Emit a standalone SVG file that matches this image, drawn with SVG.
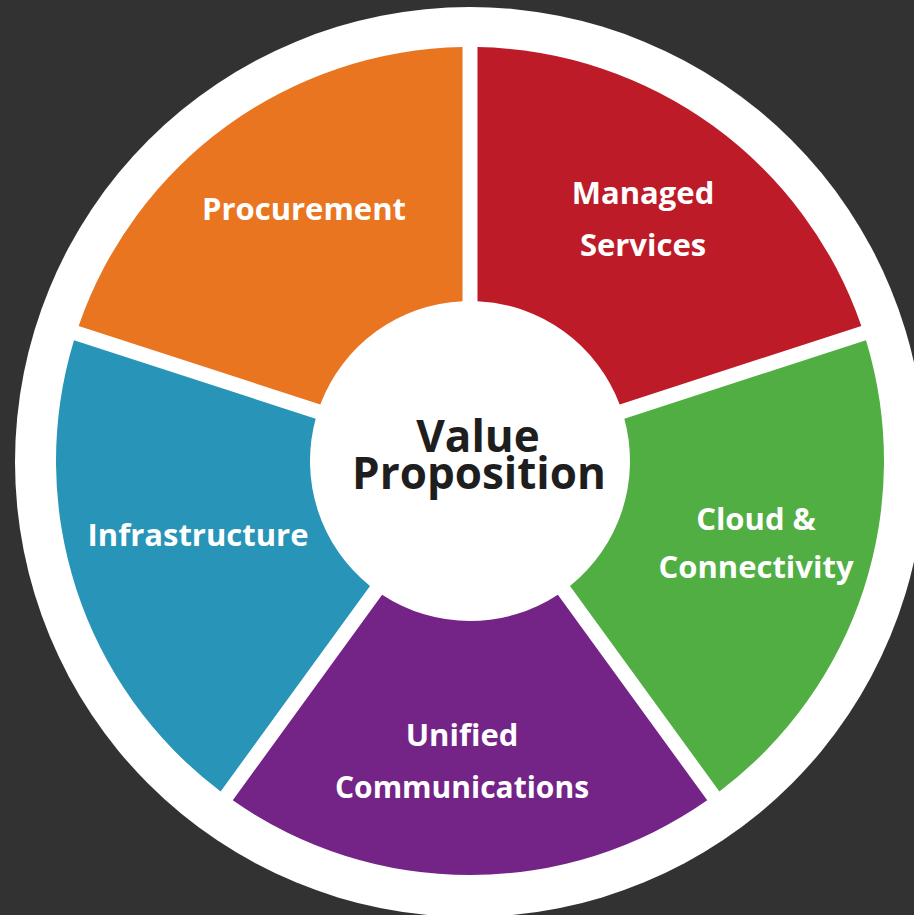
<svg xmlns="http://www.w3.org/2000/svg" width="914" height="915" viewBox="0 0 914 915">
  <style>
    .lbl { font-family: "Open Sans", "Liberation Sans", sans-serif; font-weight: 700; font-size: 31px; fill: #ffffff; text-anchor: middle; }
    .lbl2 { font-size: 30px; }
    .ctr { font-family: "Open Sans", "Liberation Sans", sans-serif; font-weight: 700; font-size: 44px; fill: #1e1e1e; text-anchor: middle; }
  </style>
  <rect x="0" y="0" width="914" height="915" fill="#323232"/>
  <circle cx="470" cy="462" r="455" fill="#ffffff"/>

  <g id="managed-services">
    <path d="M 477.5,301.18 L 477.5,47.07 A 414 414 0 0 1 861.35,325.96 L 619.68,404.48 A 160 160 0 0 0 477.5,301.18 Z" fill="#BE1B29"/>
    <text class="lbl" x="643" y="204">Managed</text>
    <text class="lbl" x="643" y="256">Services</text>
  </g>
  <g id="cloud-connectivity">
    <path d="M 624.32,418.74 L 865.99,340.22 A 414 414 0 0 1 719.37,791.47 L 570.01,585.89 A 160 160 0 0 0 624.32,418.74 Z" fill="#50AE42"/>
    <text class="lbl" x="756" y="530">Cloud &amp;</text>
    <text class="lbl" x="756" y="578">Connectivity</text>
  </g>
  <g id="unified-communications">
    <path d="M 557.87,594.71 L 707.23,800.29 A 414 414 0 0 1 232.77,800.29 L 382.13,594.71 A 160 160 0 0 0 557.87,594.71 Z" fill="#742486"/>
    <text class="lbl" x="462" y="746">Unified</text>
    <text class="lbl lbl2" x="462" y="798">Communications</text>
  </g>
  <g id="infrastructure">
    <path d="M 369.99,585.89 L 220.63,791.47 A 414 414 0 0 1 74.01,340.22 L 315.68,418.74 A 160 160 0 0 0 369.99,585.89 Z" fill="#2794B8"/>
    <text class="lbl" x="198" y="546">Infrastructure</text>
  </g>
  <g id="procurement">
    <path d="M 320.32,404.48 L 78.65,325.96 A 414 414 0 0 1 462.5,47.07 L 462.5,301.18 A 160 160 0 0 0 320.32,404.48 Z" fill="#EA7521"/>
    <text class="lbl" x="304" y="220">Procurement</text>
  </g>
  <g id="value-proposition">
    <text class="ctr" x="478" y="452">Value</text>
    <text class="ctr" x="479" y="489">Proposition</text>
  </g>
  <g id="connectors"/>
</svg>
